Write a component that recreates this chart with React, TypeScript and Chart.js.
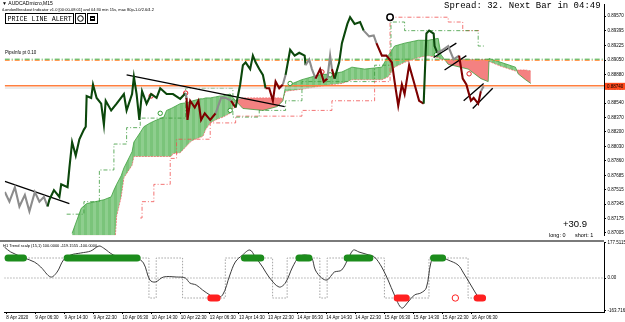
import React, { useEffect, useRef } from "react";
import { Chart, registerables } from "chart.js";

Chart.register(...registerables);

// ---------------- axes ----------------
const TIME_TICK_BARS = [0, 32, 64, 96, 128, 160, 192, 224, 256, 288, 320, 352, 384, 416, 448, 480, 512];
const TIME_LABELS = [
  "8 Apr 2020", "9 Apr 06:30", "9 Apr 14:30", "9 Apr 22:30", "10 Apr 06:30", "10 Apr 14:30",
  "10 Apr 22:30", "13 Apr 06:30", "13 Apr 14:30", "13 Apr 22:30", "14 Apr 06:30", "14 Apr 14:30",
  "14 Apr 22:30", "15 Apr 06:30", "15 Apr 14:30", "15 Apr 22:30", "16 Apr 06:30",
];
const PRICE_TICKS = [
  0.8957, 0.89395, 0.89225, 0.8905, 0.8888, 0.8871, 0.8854, 0.8837,
  0.882, 0.8803, 0.8786, 0.87685, 0.87515, 0.87345, 0.87175, 0.87005,
];
const SUB_TICKS = [177.5115, 0, -163.7168];
const SUB_TICK_LABELS = ["177.5115", "0.00", "-163.7168"];

// ---------------- price (M15 close, sampled) ----------------
const PRICE_BARS = [
  -2, 3, 9, 14, 20, 25, 31, 36, 41, 45,
  47, 52, 58, 60, 67, 69, 72, 76, 80, 85,
  87, 88, 93, 95, 99, 104, 107, 109, 115, 121,
  129, 132, 138, 140, 143, 146, 149, 154, 159, 165,
  169, 176, 183, 191, 197, 198, 199, 202, 207, 211,
  214, 218, 224, 230, 236, 241, 247, 249, 252, 257,
  260, 263, 268, 271, 274, 278, 282, 285, 289, 293,
  296, 300, 304, 307, 312, 317, 322, 328, 329, 333,
  336, 340, 345, 349, 353, 356, 358, 361, 366, 369,
  375, 378, 383, 389, 393, 399, 404, 407, 413, 418,
  424, 427, 431, 435, 438, 443, 449, 454, 459, 462,
  465, 470, 471, 474, 480, 486, 489, 492, 498, 502,
  506, 508, 511, 514, 519, 522, 525,
];
const PRICE = [
  0.87489, 0.87375, 0.87546, 0.87318, 0.87455, 0.87261, 0.87489, 0.87375, 0.87432, 0.87318,
  0.87398, 0.87512, 0.87432, 0.8758, 0.87546, 0.87773, 0.8808, 0.87921, 0.88114, 0.88228,
  0.88262, 0.88626, 0.88603, 0.88762, 0.88603, 0.88535, 0.88285, 0.88569, 0.88455, 0.88535,
  0.88649, 0.88455, 0.88649, 0.88853, 0.88649, 0.88342, 0.88683, 0.88535, 0.88649, 0.88603,
  0.88717, 0.88649, 0.88649, 0.88592, 0.8866, 0.88603, 0.88342, 0.88569, 0.88489, 0.88569,
  0.88342, 0.88421, 0.88342, 0.88421, 0.88603, 0.88603, 0.88569, 0.88535, 0.88489, 0.88762,
  0.8899, 0.89024, 0.88944, 0.89103, 0.89024, 0.88944, 0.88876, 0.88717, 0.88717, 0.88569,
  0.88796, 0.88717, 0.88762, 0.88876, 0.89172, 0.89103, 0.89137, 0.89103, 0.8899, 0.89058,
  0.88944, 0.88831, 0.88944, 0.88796, 0.88831, 0.89103, 0.88944, 0.88831, 0.89024, 0.89251,
  0.89479, 0.89558, 0.89479, 0.89501, 0.89399, 0.89331, 0.89342, 0.89251, 0.89103, 0.89103,
  0.89024, 0.88796, 0.88512, 0.88762, 0.88649, 0.8899, 0.88762, 0.88569, 0.88535, 0.89365,
  0.89399, 0.89365, 0.89217, 0.89137, 0.89172, 0.89217, 0.89137, 0.89058, 0.89103, 0.88831,
  0.88762, 0.88683, 0.88569, 0.88603, 0.88535, 0.88683, 0.8874,
];
// trend state per point: g = up (green), r = down (red), n = neutral (grey)
const PRICE_TREND = [
  "n", "n", "n", "n", "n", "n", "n", "n", "n", "n",
  "g", "g", "g", "g", "g", "g", "g", "g", "g", "g",
  "g", "g", "g", "g", "g", "g", "g", "g", "g", "g",
  "g", "g", "g", "g", "g", "g", "g", "g", "g", "g",
  "g", "g", "g", "g", "g", "n", "r", "r", "r", "r",
  "r", "r", "r", "r", "n", "n", "n", "r", "r", "g",
  "g", "g", "g", "g", "g", "g", "g", "g", "r", "r",
  "r", "r", "r", "n", "g", "g", "g", "g", "g", "n",
  "n", "n", "r", "r", "r", "n", "n", "r", "g", "g",
  "g", "g", "g", "g", "g", "n", "n", "n", "r", "r",
  "r", "r", "r", "r", "r", "r", "r", "r", "r", "g",
  "g", "g", "g", "g", "n", "n", "n", "n", "n", "r",
  "r", "r", "r", "r", "r", "r", "n",
];
const LAST_PRICE = 0.8874;

// ---------------- cloud (two span lines) ----------------
const CLOUD_BARS = [
  72, 82, 88, 107, 115, 118, 121, 126, 129, 138,
  140, 147, 151, 158, 165, 173, 176, 181, 183, 191,
  198, 202, 205, 213, 216, 219, 224, 230, 235, 238,
  246, 252, 260, 282, 298, 301, 304, 307, 325, 344,
  358, 369, 380, 394, 413, 420, 427, 438, 453, 464,
  475, 478, 486, 508, 522, 530, 531, 544, 560, 563,
  571, 577,
];
const SPAN_A = [
  0.87, 0.87296, 0.87352, 0.87398, 0.87432, 0.87512, 0.8758, 0.87682, 0.87773, 0.87966,
  0.8808, 0.88194, 0.88262, 0.88307, 0.88342, 0.88376, 0.88455, 0.88478, 0.88489, 0.88535,
  0.88546, 0.88558, 0.88569, 0.88592, 0.88592, 0.88603, 0.88603, 0.88615, 0.88626, 0.88626,
  0.88649, 0.88569, 0.88478, 0.88455, 0.88501, 0.88535, 0.88569, 0.8874, 0.88819, 0.88876,
  0.88888, 0.8891, 0.88967, 0.88944, 0.88967, 0.89103, 0.89217, 0.89251, 0.89285, 0.89285,
  0.89308, 0.89115, 0.89001, 0.88944, 0.88831, 0.88796, 0.89069, 0.89024, 0.88967, 0.88888,
  0.88819, 0.88774,
];
const SPAN_B = [
  0.86693, 0.86693, 0.86693, 0.86693, 0.86693, 0.86693, 0.87205, 0.87432, 0.87659, 0.87807,
  0.8791, 0.8791, 0.8791, 0.8791, 0.8791, 0.8791, 0.8791, 0.8791, 0.87944, 0.87955,
  0.88035, 0.8808, 0.88103, 0.88137, 0.88148, 0.88228, 0.88307, 0.88342, 0.88364, 0.88376,
  0.88421, 0.88569, 0.88603, 0.88603, 0.88603, 0.88603, 0.88592, 0.88683, 0.88706, 0.8874,
  0.88762, 0.88774, 0.88819, 0.88819, 0.88819, 0.88853, 0.88967, 0.89024, 0.89081, 0.89103,
  0.89081, 0.89058, 0.89058, 0.89058, 0.89058, 0.89058, 0.89035, 0.88978, 0.88922, 0.88933,
  0.88933, 0.88922,
];

// ---------------- trailing step levels ----------------
const GREEN_STEP_BARS = [66, 85, 102, 118, 132, 147, 197, 249, 278, 307, 325, 405, 423, 438, 519, 527];
const GREEN_STEP = [
  0.87227, 0.87375, 0.8775, 0.88057, 0.88251, 0.88364, 0.88717, 0.88376, 0.88455, 0.88569,
  0.88796, 0.8899, 0.89501, 0.89399, 0.89217, 0.89217,
];
const RED_STEP_BARS = [147, 149, 162, 180, 187, 224, 252, 325, 358, 405, 422, 486, 502, 522];
const RED_STEP = [
  0.87182, 0.87375, 0.8758, 0.87887, 0.88114, 0.88307, 0.88387, 0.88455, 0.88569, 0.88796,
  0.89558, 0.89501, 0.89399, 0.89399,
];

// ---------------- horizontal levels ----------------
const ALERT_LEVEL = 0.88748;
const BID_LEVEL = 0.8872;
const GREEN_LEVEL = 0.89061;
const ORANGE_LEVEL = 0.89047;

// ---------------- trend lines [bar0, price0, bar1, price1] ----------------
const TREND_LINES = [
  [-2, 0.87614, 69, 0.87352],
  [132, 0.88876, 306, 0.88501],
  [470, 0.89081, 495, 0.89251],
  [482, 0.88933, 506, 0.89103],
  [503, 0.88569, 525, 0.88774],
  [513, 0.88478, 535, 0.88717],
];

// ---------------- signal markers ----------------
const GREEN_MARK_BARS = [169, 246, 312, 356, 473];
const GREEN_MARKS = [0.88421, 0.88455, 0.88774, 0.88876, 0.89115];
const RED_MARK_BARS = [159, 197, 347, 509];
const RED_MARKS = [0.88626, 0.8866, 0.8891, 0.88888];
const ARROW_MARK_BARS = [422];
const ARROW_MARKS = [0.89558];

// ---------------- sub window: H1 Trend scalp ----------------
const OSC_BARS = [
  -2, 5, 20, 31, 38, 49, 56, 63, 71, 82,
  93, 102, 107, 118, 129, 143, 151, 158, 164, 173,
  187, 197, 202, 209, 216, 224, 230, 238, 246, 252,
  260, 268, 274, 282, 289, 300, 307, 315, 322, 329,
  336, 340, 347, 353, 358, 361, 369, 377, 382, 388,
  399, 405, 413, 420, 427, 435, 442, 449, 456, 462,
  467, 471, 478, 486, 497, 503, 511, 519, 522,
];
const OSC = [
  155, 130, 100, 80, 55, 5, 30, 90, 115, 125,
  135, 160, 150, 115, 105, 100, 75, -10, -20, 5,
  5, 0, -25, -35, -60, -85, -100, -85, 15, 80,
  115, 140, 105, 55, 5, -45, -25, 55, 105, 115,
  100, 40, 0, -10, 15, 30, 40, 105, 140, 130,
  115, 105, 55, -10, -85, -150, -120, -85, -75, -50,
  75, 105, 105, 90, 65, 25, -35, -95, -110,
];
const SIGNAL_BARS = [-2, 157, 165, 194, 241, 293, 309, 345, 353, 416, 465, 508, 527];
const SIGNAL = [100, -100, 100, -100, 100, -100, 100, -100, 100, -100, 100, -100, -100];
const LONG_RANGES = [[2, 19], [67, 144], [262, 280], [322, 333], [375, 400], [470, 480]];
const SHORT_RANGES = [[225, 232], [430, 440], [518, 524]];
const OPEN_SHORT_BARS = [494];

// ---------------- texts ----------------
const SYMBOL_TEXT = "\u25BC AUDCADmicro,M15";
const INDICATOR_TEXT = "iLondonBreakout Indicator v1.0 [00:00-08:01] and 04:30 min 15s, max 80p-1.0/2.6/4.2";
const ALERT_TEXT = "PRICE LINE ALERT";
const SPREAD_TEXT = "Spread: 32. Next Bar in 04:49";
const PIPS_TEXT = "PipsInfo pt 0.10";
const PROFIT_TEXT = "+30.9";
const POS_LONG_TEXT = "long: 0";
const POS_SHORT_TEXT = "short: 1";
const SUB_TITLE = "H1 Trend scalp (15,1) 100.0000 -119.1555 -100.0000";

// ---------------- view ----------------
const X_MIN = -2.2;
const X_MAX = 657.5;
const Y_MAX = 0.89706;
const Y_MIN = 0.86977;
const SUB_MAX = 180;
const SUB_MIN = -170;
const FONT = "'Liberation Sans', Arial, sans-serif";
const MONO = "'Liberation Mono', 'DejaVu Sans Mono', monospace";
const TREND_COLORS: Record<string, string> = { g: "#0b470b", r: "#7d0000", n: "#8c8c8c" };

const pts = (xs: number[], ys: number[]) => xs.map((x, i) => ({ x, y: ys[i] }));
const hline = (v: number) => [{ x: X_MIN, y: v }, { x: X_MAX, y: v }];
const ranges = (rs: number[][], v: number) => {
  const out: any[] = [];
  rs.forEach(([a, b]) => {
    out.push({ x: a, y: v }, { x: b, y: v }, { x: b + 0.5, y: null });
  });
  return out;
};

function stripes(c1: string, c2: string, w: number): any {
  const pc = document.createElement("canvas");
  pc.width = w * 2;
  pc.height = 1;
  const g = pc.getContext("2d") as CanvasRenderingContext2D;
  g.fillStyle = c1;
  g.fillRect(0, 0, w, 1);
  g.fillStyle = c2;
  g.fillRect(w, 0, w, 1);
  const main = document.createElement("canvas").getContext("2d") as CanvasRenderingContext2D;
  return main.createPattern(pc, "repeat");
}

const mainText = {
  id: "mainText",
  afterDraw(chart: any) {
    const ctx = chart.ctx;
    const yS = chart.scales.y;
    ctx.save();
    ctx.textBaseline = "middle";
    ctx.fillStyle = "#000";
    ctx.font = `5px ${FONT}`;
    ctx.fillText(SYMBOL_TEXT, 2, 4);
    ctx.font = `4px ${FONT}`;
    ctx.fillText(INDICATOR_TEXT, 2, 10);
    // alert panel
    ctx.fillStyle = "#fff";
    ctx.fillRect(5, 13, 93, 11);
    ctx.strokeStyle = "#000";
    ctx.lineWidth = 1;
    ctx.strokeRect(5.5, 13.5, 68, 10);
    ctx.strokeRect(75.5, 13.5, 10, 10);
    ctx.strokeRect(87.5, 13.5, 10, 10);
    ctx.beginPath();
    ctx.arc(80.5, 18.5, 2.8, 0, Math.PI * 2);
    ctx.stroke();
    ctx.fillStyle = "#000";
    ctx.fillRect(90, 16, 5, 5);
    ctx.fillStyle = "#fff";
    ctx.fillRect(91, 18, 3, 1);
    ctx.fillStyle = "#000";
    ctx.font = `6.7px ${MONO}`;
    ctx.fillText(ALERT_TEXT, 7.5, 18.8);
    ctx.font = `9px ${MONO}`;
    ctx.fillText(SPREAD_TEXT, 444, 6);
    ctx.font = `4.5px ${FONT}`;
    ctx.fillText(PIPS_TEXT, 5, 53);
    ctx.font = `9.5px ${FONT}`;
    ctx.fillText(PROFIT_TEXT, 563, 224);
    ctx.font = `5.5px ${FONT}`;
    ctx.fillText(POS_LONG_TEXT, 549, 235.5);
    ctx.fillText(POS_SHORT_TEXT, 575, 235.5);
    // current price tag
    const py = yS.getPixelForValue(LAST_PRICE);
    ctx.fillStyle = "#ff4a1c";
    ctx.fillRect(605, py - 3.5, 20, 7);
    ctx.fillStyle = "#000";
    ctx.font = `4.5px ${FONT}`;
    ctx.fillText(LAST_PRICE.toFixed(5), 607, py + 0.3);
    ctx.restore();
  },
};

const subText = {
  id: "subText",
  afterDraw(chart: any) {
    const ctx = chart.ctx;
    ctx.save();
    ctx.fillStyle = "#7a7a7a";
    ctx.fillRect(0, 4, 604, 2);
    ctx.fillStyle = "#000";
    ctx.textBaseline = "middle";
    ctx.font = `4px ${FONT}`;
    ctx.fillText(SUB_TITLE, 3, 9.5);
    ctx.restore();
  },
};

function yAxis(min: number, max: number, ticks: number[], cb: any) {
  return {
    position: "right",
    min,
    max,
    afterFit: (s: any) => {
      s.width = 21;
    },
    afterBuildTicks: (s: any) => {
      s.ticks = ticks.map((v) => ({ value: v }));
    },
    ticks: { font: { family: FONT, size: 4.5 }, color: "#000", padding: 1.5, autoSkip: false, callback: cb },
    grid: { drawOnChartArea: false, drawTicks: true, tickLength: 2, color: "#000" },
    border: { display: true, color: "#000", width: 1 },
  };
}

export default function App() {
  const mainRef = useRef<HTMLCanvasElement>(null);
  const subRef = useRef<HTMLCanvasElement>(null);

  useEffect(() => {
    const greenFill = stripes("rgba(104,188,104,0.88)", "rgba(126,199,126,0.88)", 3);
    const redFill = "rgba(243,112,112,0.88)";
    const lineBase = { pointRadius: 0, pointHoverRadius: 0, fill: false, tension: 0 };
    const trendSets = TREND_LINES.map((t) => ({
      ...lineBase,
      data: [{ x: t[0], y: t[1] }, { x: t[2], y: t[3] }],
      borderColor: "#000",
      borderWidth: 1.3,
      order: 1,
    }));
    const main = new Chart(mainRef.current as HTMLCanvasElement, {
      type: "line",
      data: {
        datasets: [
          {
            ...lineBase,
            data: pts(PRICE_BARS, PRICE),
            borderWidth: 2.1,
            borderJoinStyle: "miter",
            borderColor: TREND_COLORS.g,
            segment: { borderColor: (c: any) => TREND_COLORS[PRICE_TREND[c.p1DataIndex]] },
            order: 0,
          },
          ...trendSets,
          {
            ...lineBase,
            data: pts(GREEN_MARK_BARS, GREEN_MARKS),
            showLine: false,
            pointRadius: 2.2,
            pointBorderWidth: 1,
            pointBorderColor: "#2f9a2f",
            pointBackgroundColor: "#ffffff",
            order: 1,
          },
          {
            ...lineBase,
            data: pts(RED_MARK_BARS, RED_MARKS),
            showLine: false,
            pointRadius: 2.2,
            pointBorderWidth: 1,
            pointBorderColor: "#e02020",
            pointBackgroundColor: "#ffffff",
            order: 1,
          },
          {
            ...lineBase,
            data: pts(ARROW_MARK_BARS, ARROW_MARKS),
            showLine: false,
            pointRadius: 3.2,
            pointBorderWidth: 1.5,
            pointBorderColor: "#000",
            pointBackgroundColor: "#ffffff",
            order: 1,
          },
          { ...lineBase, data: hline(ALERT_LEVEL), borderColor: "#ff7f3f", borderWidth: 1.5, order: 2 },
          { ...lineBase, data: hline(BID_LEVEL), borderColor: "#d8d8d8", borderWidth: 1, order: 2 },
          {
            ...lineBase,
            data: hline(GREEN_LEVEL),
            borderColor: "#3aa83a",
            borderWidth: 1,
            borderDash: [5, 2, 1, 2],
            order: 3,
          },
          {
            ...lineBase,
            data: hline(ORANGE_LEVEL),
            borderColor: "#ff8c3a",
            borderWidth: 1,
            borderDash: [5, 2, 1, 2],
            order: 3,
          },
          {
            ...lineBase,
            data: pts(GREEN_STEP_BARS, GREEN_STEP),
            stepped: true,
            borderColor: "#3c9a3c",
            borderWidth: 0.8,
            borderDash: [4, 2, 1, 2],
            order: 4,
          },
          {
            ...lineBase,
            data: pts(RED_STEP_BARS, RED_STEP),
            stepped: true,
            borderColor: "#f05050",
            borderWidth: 0.8,
            borderDash: [4, 2, 1, 2],
            order: 4,
          },
          {
            ...lineBase,
            data: pts(CLOUD_BARS, SPAN_A),
            borderColor: "#3f9f3f",
            borderWidth: 0.8,
            fill: { target: "+1", above: greenFill, below: redFill },
            order: 5,
          },
          {
            ...lineBase,
            data: pts(CLOUD_BARS, SPAN_B),
            borderColor: "#f06060",
            borderWidth: 0.8,
            borderDash: [2, 1],
            order: 5,
          },
        ],
      },
      options: {
        responsive: false,
        animation: false,
        events: [],
        layout: { padding: 0 },
        plugins: { legend: { display: false }, tooltip: { enabled: false } },
        scales: {
          x: { type: "linear", min: X_MIN, max: X_MAX, display: false },
          y: yAxis(Y_MIN, Y_MAX, PRICE_TICKS, (v: any) => Number(v).toFixed(5)),
        },
      } as any,
      plugins: [mainText],
    } as any);

    const sub = new Chart(subRef.current as HTMLCanvasElement, {
      type: "line",
      data: {
        datasets: [
          {
            ...lineBase,
            data: ranges(LONG_RANGES, 100),
            borderColor: "#1c8c1c",
            borderWidth: 7,
            borderCapStyle: "round",
            spanGaps: false,
            order: 0,
          },
          {
            ...lineBase,
            data: ranges(SHORT_RANGES, -100),
            borderColor: "#ff2020",
            borderWidth: 7,
            borderCapStyle: "round",
            spanGaps: false,
            order: 0,
          },
          {
            ...lineBase,
            data: OPEN_SHORT_BARS.map((b) => ({ x: b, y: -100 })),
            showLine: false,
            pointRadius: 3.2,
            pointBorderWidth: 1,
            pointBorderColor: "#ff2020",
            pointBackgroundColor: "#ffffff",
            order: 0,
          },
          {
            ...lineBase,
            data: pts(OSC_BARS, OSC),
            borderColor: "#3c3c3c",
            borderWidth: 1,
            tension: 0.35,
            order: 1,
          },
          {
            ...lineBase,
            data: pts(SIGNAL_BARS, SIGNAL),
            stepped: true,
            borderColor: "#8c8c8c",
            borderWidth: 0.8,
            borderDash: [1.5, 1.5],
            order: 2,
          },
          {
            ...lineBase,
            data: hline(0),
            borderColor: "#9a9a9a",
            borderWidth: 0.8,
            borderDash: [1.5, 1.5],
            order: 3,
          },
        ],
      },
      options: {
        responsive: false,
        animation: false,
        events: [],
        layout: { padding: { top: 6, left: 0, right: 0, bottom: 0 } },
        plugins: { legend: { display: false }, tooltip: { enabled: false } },
        scales: {
          x: {
            type: "linear",
            min: X_MIN,
            max: X_MAX,
            position: "bottom",
            afterBuildTicks: (s: any) => {
              s.ticks = TIME_TICK_BARS.map((v) => ({ value: v }));
            },
            afterFit: (s: any) => {
              s.height = 10;
            },
            ticks: {
              font: { family: FONT, size: 4.5 },
              color: "#000",
              align: "start",
              maxRotation: 0,
              minRotation: 0,
              autoSkip: false,
              padding: 1,
              callback: (_v: any, i: number) => TIME_LABELS[i],
            },
            grid: { drawOnChartArea: false, drawTicks: true, tickLength: 2, color: "#000" },
            border: { display: true, color: "#000", width: 1 },
          },
          y: yAxis(SUB_MIN, SUB_MAX, SUB_TICKS, (_v: any, i: number) => SUB_TICK_LABELS[i]),
        },
      } as any,
      plugins: [subText],
    } as any);

    return () => {
      main.destroy();
      sub.destroy();
    };
  }, []);

  return (
    <div
      style={{
        position: "absolute",
        left: 0,
        top: 0,
        width: 625,
        height: 322,
        background: "#ffffff",
        overflow: "hidden",
      }}
    >
      <canvas
        ref={mainRef}
        width={625}
        height={240}
        style={{ position: "absolute", left: 0, top: 0, width: 625, height: 240 }}
      />
      <canvas
        ref={subRef}
        width={625}
        height={86}
        style={{ position: "absolute", left: 0, top: 236, width: 625, height: 86 }}
      />
    </div>
  );
}
